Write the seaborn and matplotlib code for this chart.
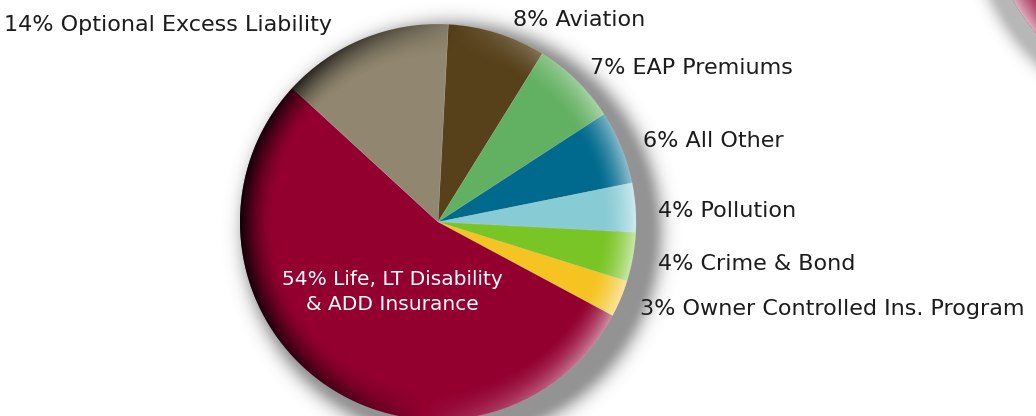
import numpy as np
import matplotlib
matplotlib.use("Agg")
import matplotlib.pyplot as plt
import seaborn as sns

# Premium share by line of coverage
categories = [
    "Aviation",
    "EAP Premiums",
    "All Other",
    "Pollution",
    "Crime & Bond",
    "Owner Controlled Ins. Program",
    "Life, LT Disability\n& ADD Insurance",
    "Optional Excess Liability",
]
shares = [8, 7, 6, 4, 4, 3, 54, 14]
colors = ["#56411A", "#62B061", "#006A8E", "#87CBD5",
          "#7AC526", "#F5C422", "#930030", "#918770"]

W, H = 1036, 416
sns.set_theme(style="white")
plt.rcParams["font.family"] = ["DejaVu Sans"]

fig = plt.figure(figsize=(W / 100, H / 100), dpi=100)
ax = fig.add_axes([0, 0, 1, 1])

cx, cy, R = 438, H - 222, 198

ys, xs = np.mgrid[0:H, 0:W] + 0.5


def halo(x0, y0, rad, dx, dy, width, strength):
    d = np.hypot(xs - (x0 + dx), ys - (y0 + dy)) - rad
    a = strength * np.exp(-(np.clip(d, 0, None) / width) ** 2)
    img = np.zeros((H, W, 4))
    img[..., :3] = 0.3
    img[..., 3] = a
    return img


def bevel(x0, y0, rad, light_deg, dark_amt, light_amt, band=0.17):
    r = np.hypot(xs - x0, ys - y0)
    th = np.arctan2(ys - y0, xs - x0)
    e = np.clip((r / rad - (1 - band)) / band, 0, 1) ** 1.6
    d = np.cos(th - np.deg2rad(light_deg))
    inside = np.clip(rad - r + 0.5, 0, 1)
    img = np.zeros((H, W, 4))
    lit = d > 0
    img[lit, :3] = 1.0
    img[..., 3] = np.where(lit, light_amt * e * d, dark_amt * e * np.clip(-d, 0, 1) ** 0.7) * inside
    return img


ext = (0, W, 0, H)

# soft drop shadow behind the pie, cast to the lower right
ax.imshow(halo(cx, cy, R, 14, -10, 15, 0.6), extent=ext, origin="lower", zorder=0, interpolation="bilinear")

wedges, _ = ax.pie(shares, colors=colors, startangle=87, counterclock=False,
                   center=(cx, cy), radius=R, frame=True,
                   wedgeprops=dict(linewidth=0.4, edgecolor=(1, 1, 1, 0.2)))
for w in wedges:
    w.set_zorder(1)

# rim shading: dark towards the left, highlight towards the right
ax.imshow(bevel(cx, cy, R, -5, 0.92, 0.6), extent=ext, origin="lower", zorder=2, interpolation="bilinear")

# neighbouring disc peeking in at the top-right corner
ox, oy = 1186, H + 96
ax.imshow(halo(ox, oy, R, -8, -10, 12, 0.4), extent=ext, origin="lower", zorder=0, interpolation="bilinear")
ax.add_patch(plt.Circle((ox, oy), R, color="#930030", lw=0, zorder=1))
ax.imshow(bevel(ox, oy, R, 209, 0.9, 0.7, band=0.2), extent=ext, origin="lower", zorder=2, interpolation="bilinear")

# labels
label_pos = [
    (513, 20, "left"),
    (590, 68, "left"),
    (643, 141, "left"),
    (658, 211, "left"),
    (658, 264, "left"),
    (640, 309, "left"),
    (392, 292, "center"),
    (332, 25, "right"),
]
for cat, val, (px, py, ha) in zip(categories, shares, label_pos):
    inner = ha == "center"
    ax.text(px, H - py, f"{val}% {cat}", ha=ha, va="center",
            fontsize=14.5 if inner else 16, color="white" if inner else "#1c1c1c",
            linespacing=1.45, multialignment="center", zorder=3)

ax.set_xlim(0, W)
ax.set_ylim(0, H)
ax.set_aspect("equal")
ax.axis("off")

fig.savefig("out.png", dpi=100, facecolor="white")
